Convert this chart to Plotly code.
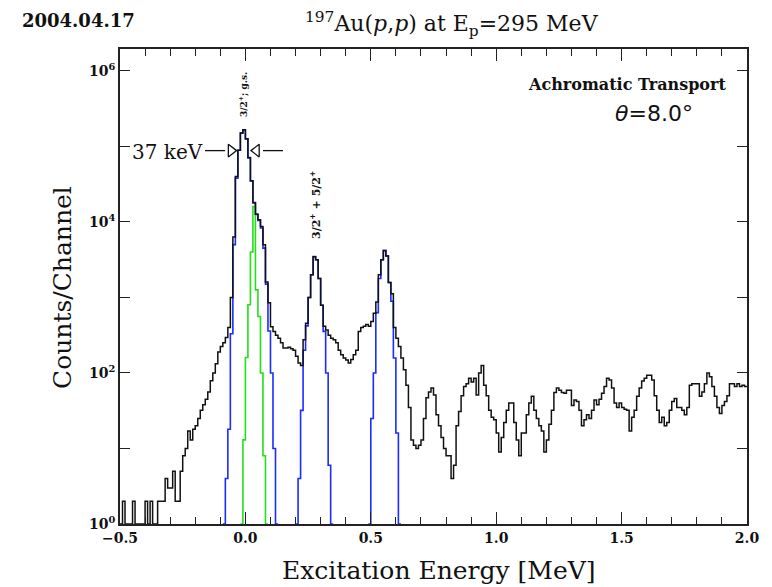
import plotly.graph_objects as go

# ---------------- data ----------------
E_START = -0.5      # MeV, lower edge of first channel
BIN_WIDTH = 0.01    # MeV per channel

counts = [
    1, 2, 1, 1, 1, 2, 1, 1, 1, 1, 2, 1, 2, 1, 1, 2, 2,
    2, 4, 3, 3, 5, 2, 2, 5, 8, 10, 17, 13, 18, 20, 25, 32, 38, 45, 56, 79, 100, 132, 190, 224, 251, 295, 400,
    1000, 6300, 40000, 89000, 150000, 166000, 126000, 71000, 35000, 18000, 12600, 10700, 8700, 5000, 1600, 850, 410, 355,
    316, 288, 251, 214, 214, 219, 209, 200, 166, 135, 126,
    275, 457, 1000, 2000, 3470, 3160, 1780, 790, 417, 370, 316,
    288, 275, 251, 200, 174, 158, 148, 135, 151, 174, 200, 355, 400, 417, 437, 417,
    480, 620, 870, 2000, 3160, 4170, 3550, 1580, 1120, 400, 288, 224, 158, 110, 69, 35, 13, 11, 10, 11, 13, 25, 47,
    56, 63, 51, 28, 20, 14, 10, 8, 8, 4, 6, 20, 31, 50, 66, 72, 85, 76, 85, 51,
    100, 126, 69, 50, 32, 26, 24, 16, 9, 14, 22, 32, 40, 40, 22, 13, 8, 16, 16, 28,
    40, 49, 32, 25, 20, 17, 9, 13, 21, 32, 55, 63, 59, 55, 54, 59, 59, 37, 44, 42,
    32, 20, 24, 28, 25, 32, 44, 38, 45, 54, 66, 85, 81, 63, 40, 35, 40, 35, 33, 32,
    17, 26, 32, 49, 63, 78, 85, 93, 93, 81, 50, 32, 22, 26, 20, 22, 32, 42, 46, 35,
    35, 32, 28, 35, 69, 72, 72, 72, 49, 56, 72, 100, 89, 66, 49, 35, 29, 37, 42, 50,
    72, 72, 66, 72, 66, 69, 66,
]

# Fitted peak shapes (blue) and 77-keV component (green): first channel + values
fit_gs_start = 42
fit_gs = [4, 18, 330, 5000, 38000, 89000, 150000, 166000, 126000, 71000, 35000,
          18000, 12600, 10500, 8300, 4500, 1500, 360, 100, 10]
fit_p2_start = 71
fit_p2 = [4, 32, 200, 420, 1000, 2000, 3470, 3160, 1780, 790, 355, 100, 6]
fit_p3_start = 100
fit_p3 = [25, 100, 630, 1780, 3160, 4170, 3550, 1580, 890, 158, 16]
fit_green_start = 49
fit_green = [13, 160, 800, 4000, 16000, 1260, 560, 100, 8]

x_tick_vals = [-0.5, 0.0, 0.5, 1.0, 1.5, 2.0]
x_tick_text = ["\u22120.5", "0.0", "0.5", "1.0", "1.5", "2.0"]
y_tick_vals = [1, 100, 1e4, 1e6]
y_tick_text = ["10<sup>0</sup>", "10<sup>2</sup>", "10<sup>4</sup>", "10<sup>6</sup>"]
y_minor_vals = [10, 1000, 1e5]

# ---------------- helpers ----------------
W, H = 772, 587
L, R, T, B = 120, 747, 49, 524


def px_x(p):
    return (p - L) / (R - L)


def px_y(p):
    return (B - p) / (B - T)


def step_xy(start, values, pad=False):
    vals = list(values)
    if pad:
        vals = [1] + vals + [1]
        start = start - 1
    xs = [E_START + BIN_WIDTH * (start + i) for i in range(len(vals) + 1)]
    ys = vals + [vals[-1]]
    return xs, ys


fig = go.Figure()

BLUE = "#1a2cff"
GREEN = "#22e01a"
INK = "#111111"

for st, vals in [(fit_gs_start, fit_gs), (fit_p2_start, fit_p2), (fit_p3_start, fit_p3)]:
    xs, ys = step_xy(st, vals, pad=True)
    fig.add_trace(go.Scatter(x=xs, y=ys, mode="lines", line=dict(color=BLUE, width=1.6, shape="hv"),
                             hoverinfo="skip", showlegend=False))

xs, ys = step_xy(fit_green_start, fit_green, pad=True)
fig.add_trace(go.Scatter(x=xs, y=ys, mode="lines", line=dict(color=GREEN, width=1.6, shape="hv"),
                         hoverinfo="skip", showlegend=False))

xs, ys = step_xy(0, counts)
fig.add_trace(go.Scatter(x=xs, y=ys, mode="lines", line=dict(color=INK, width=1.5, shape="hv"),
                         showlegend=False))

# FWHM arrows (37 keV)
FWHM_Y = 8.8e4
fig.add_trace(go.Scatter(x=[-0.161, -0.081], y=[FWHM_Y, FWHM_Y], mode="lines",
                         line=dict(color=INK, width=1.3), showlegend=False, hoverinfo="skip"))
fig.add_trace(go.Scatter(x=[0.07, 0.15], y=[FWHM_Y, FWHM_Y], mode="lines",
                         line=dict(color=INK, width=1.3), showlegend=False, hoverinfo="skip"))
fig.add_trace(go.Scatter(x=[-0.057], y=[FWHM_Y], mode="markers",
                         marker=dict(symbol="triangle-right-open", size=11, color=INK,
                                     line=dict(width=1.3)), showlegend=False, hoverinfo="skip"))
fig.add_trace(go.Scatter(x=[0.044], y=[FWHM_Y], mode="markers",
                         marker=dict(symbol="triangle-left-open", size=11, color=INK,
                                     line=dict(width=1.3)), showlegend=False, hoverinfo="skip"))

TICKFONT = dict(family="DejaVu Serif", size=14, color=INK, weight="bold")
SERIF = "DejaVu Serif"

fig.update_layout(
    width=W, height=H,
    margin=dict(l=L, r=W - R, t=T, b=H - B, pad=0),
    paper_bgcolor="white", plot_bgcolor="white",
    showlegend=False,
    xaxis=dict(
        range=[-0.5, 2.0], showgrid=False, zeroline=False,
        showline=True, linecolor="#222222", linewidth=1.6, mirror="ticks",
        ticks="inside", ticklen=12, tickwidth=1.4, tickcolor="#222222",
        tickvals=x_tick_vals, ticktext=x_tick_text, tickfont=TICKFONT,
        minor=dict(dtick=0.1, tick0=-0.5, ticks="inside", ticklen=7, tickwidth=1.3, tickcolor="#222222"),
    ),
    yaxis=dict(
        type="log", range=[0, 6.29], showgrid=False, zeroline=False,
        showline=True, linecolor="#222222", linewidth=1.6, mirror="ticks",
        ticks="inside", ticklen=10, tickwidth=1.4, tickcolor="#222222",
        tickvals=y_tick_vals, ticktext=y_tick_text, tickfont=TICKFONT,
        minor=dict(tickvals=y_minor_vals, ticks="inside", ticklen=10, tickwidth=1.4, tickcolor="#222222"),
    ),
)

ann = []
ann.append(dict(text="2004.04.17", x=px_x(20), y=px_y(21), xref="paper", yref="paper",
                xanchor="left", yanchor="middle", showarrow=False,
                font=dict(family=SERIF, size=18, color=INK, weight="bold")))
ann.append(dict(text="<sup>197</sup>Au(<i>p</i>,<i>p</i>) at E<sub>p</sub>=295 MeV",
                x=px_x(452), y=px_y(24), xref="paper", yref="paper",
                xanchor="center", yanchor="middle", showarrow=False,
                font=dict(family=SERIF, size=22, color=INK)))
ann.append(dict(text="Achromatic Transport", x=px_x(627), y=px_y(84), xref="paper", yref="paper",
                xanchor="center", yanchor="middle", showarrow=False,
                font=dict(family=SERIF, size=16, color=INK, weight="bold")))
ann.append(dict(text="<i>\u03b8</i>=8.0\u00b0", x=px_x(654), y=px_y(113), xref="paper", yref="paper",
                xanchor="center", yanchor="middle", showarrow=False,
                font=dict(family="DejaVu Sans", size=22, color=INK)))
ann.append(dict(text="37 keV", x=px_x(205), y=px_y(152), xref="paper", yref="paper",
                xanchor="right", yanchor="middle", showarrow=False,
                font=dict(family=SERIF, size=20, color=INK)))
ann.append(dict(text="3/2<sup>+</sup>; g.s.", x=px_x(243), y=px_y(95), xref="paper", yref="paper",
                xanchor="center", yanchor="middle", showarrow=False, textangle=-90,
                font=dict(family=SERIF, size=9, color=INK, weight="bold")))
ann.append(dict(text="3/2<sup>+</sup> + 5/2<sup>+</sup>", x=px_x(315), y=px_y(205), xref="paper", yref="paper",
                xanchor="center", yanchor="middle", showarrow=False, textangle=-90,
                font=dict(family=SERIF, size=11, color=INK, weight="bold")))
ann.append(dict(text="Counts/Channel", x=px_x(62), y=px_y(287), xref="paper", yref="paper",
                xanchor="center", yanchor="middle", showarrow=False, textangle=-90,
                font=dict(family=SERIF, size=25, color=INK)))
ann.append(dict(text="Excitation Energy [MeV]", x=px_x(439), y=px_y(570), xref="paper", yref="paper",
                xanchor="center", yanchor="middle", showarrow=False,
                font=dict(family=SERIF, size=25, color=INK)))
fig.update_layout(annotations=ann)

fig.write_html("out.html")
